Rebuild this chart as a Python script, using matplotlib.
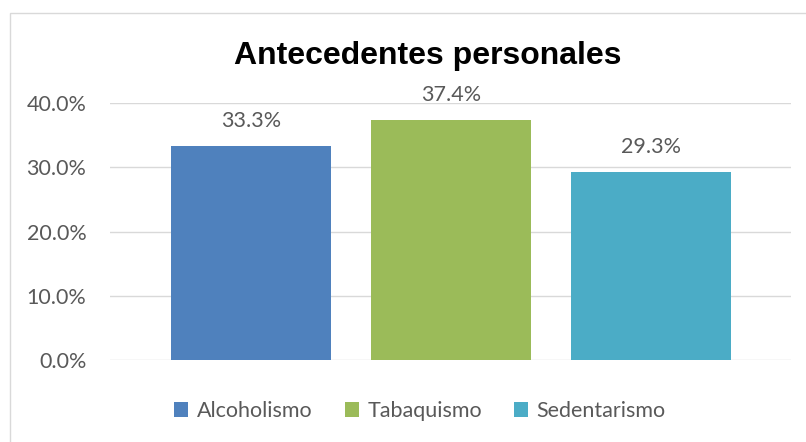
import numpy as np
import matplotlib.pyplot as plt
from matplotlib.patches import Rectangle
from matplotlib.ticker import FuncFormatter

categories = ['Alcoholismo', 'Tabaquismo', 'Sedentarismo']
values = [0.333, 0.374, 0.293]
colors = ['#4F81BD', '#9BBB59', '#4BACC6']
yticks = [0.0, 0.1, 0.2, 0.3, 0.4]

W, H = 806, 442
fig = plt.figure(figsize=(W / 100, H / 100), dpi=100)
ax = fig.add_axes([110 / W, 1 - 360 / H, (791 - 110) / W, (360 - 103) / H])

tick_font = 'Lato'
fsize = 15.5
gray = '#595959'

x = np.arange(len(categories))
bars = ax.bar(x, values, width=0.8, color=colors, zorder=2, label=categories)

for xi, v in zip(x, values):
    ax.annotate('{:.1f}%'.format(v * 100), (xi, v), xytext=(0, 18),
                textcoords='offset points', ha='center', va='center',
                fontsize=fsize, color=gray, family=tick_font)

ax.set_xlim(-0.705, 2.7)
ax.set_ylim(0, 0.4)
ax.set_yticks(yticks)
ax.yaxis.set_major_formatter(FuncFormatter(lambda v, p: '{:.1f}%'.format(v * 100)))
ax.set_xticks([])
ax.tick_params(axis='y', length=0, pad=17, labelsize=fsize, labelcolor=gray)
for lbl in ax.get_yticklabels():
    lbl.set_family(tick_font)
ax.grid(axis='y', color='#D9D9D9', linewidth=1, zorder=0)
for s in ax.spines.values():
    s.set_visible(False)

fig.text(428 / W, 1 - 56 / H, 'Antecedentes personales', ha='center', va='center',
         fontsize=23, fontweight='bold', family='Liberation Sans')

# outer frame of the chart area
fig.patches.append(Rectangle((10 / W, -0.1), 1.2, 1 - 13 / H + 0.1,
                             transform=fig.transFigure, fill=False,
                             edgecolor='#D9D9D9', linewidth=1))

leg = fig.legend(bars, categories, loc='center', bbox_to_anchor=(420 / W, 1 - 411 / H),
                 ncol=3, frameon=False, handlelength=0.65, handleheight=0.65,
                 handletextpad=0.4, columnspacing=1.5,
                 prop={'family': tick_font, 'size': fsize})
for t in leg.get_texts():
    t.set_color(gray)

fig.savefig('out.png', dpi=100)
